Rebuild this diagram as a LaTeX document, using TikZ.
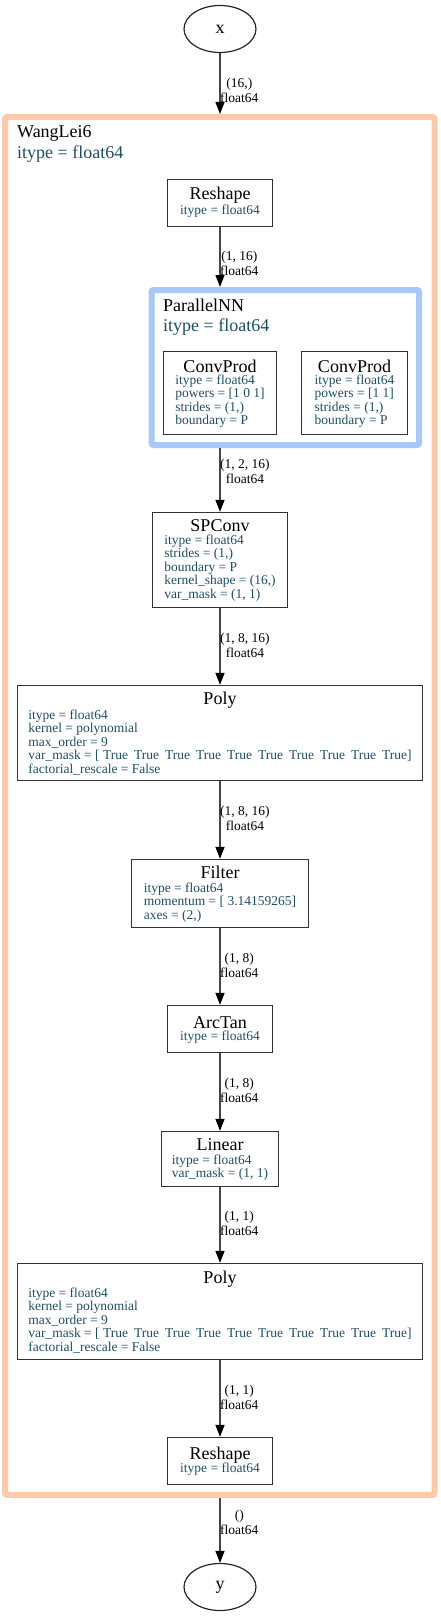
\documentclass[tikz,border=0pt]{standalone}
\usepackage{fontspec}
\setmainfont{Liberation Serif}
\usetikzlibrary{arrows.meta,shapes.geometric}
\definecolor{clusterorange}{RGB}{255,202,168}
\definecolor{clusterblue}{RGB}{168,200,250}
\definecolor{attrteal}{RGB}{30,78,96}
\definecolor{edgegray}{RGB}{70,70,70}

\begin{document}
\begin{tikzpicture}[x=1pt, y=-1pt,
    block/.style={draw=black!80, line width=1.3pt, inner sep=0pt},
    io/.style={ellipse, draw=black!85, line width=1.2pt, minimum width=72pt, minimum height=47pt, inner sep=0pt, font=\fontsize{18}{18}\selectfont},
    cluster/.style={line width=6pt, rounded corners=2pt, inner sep=0pt},
    heading/.style={anchor=base, inner sep=0pt, font=\fontsize{18}{18}\selectfont},
    attrs/.style={anchor=base, inner sep=0pt, text=attrteal, font=\fontsize{13.5}{13.5}\selectfont},
    elabel/.style={anchor=west, align=center, inner sep=0pt, font=\fontsize{13.5}{14.5}\selectfont},
    flow/.style={draw=edgegray, line width=1.4pt, -{Triangle[length=12pt, width=9pt, color=black]}}]
    \useasboundingbox (0,0) rectangle (440,1616);

    \node (wanglei) at (219.75,806) [cluster, draw=clusterorange, minimum width=429.5pt, minimum height=1378pt] {};
    \node (wangleiName) at (17,138) [heading, anchor=base west] {WangLei6};
    \node (wangleiType) at (17,159) [heading, anchor=base west, text=attrteal] {itype = float64};

    \node (parallel) at (285.25,367.5) [cluster, draw=clusterblue, minimum width=267.5pt, minimum height=155pt] {};
    \node (parallelName) at (163,311) [heading, anchor=base west] {ParallelNN};
    \node (parallelType) at (163,331) [heading, anchor=base west, text=attrteal] {itype = float64};

    \node (x) at (220,29) [io] {x};
    \node (y) at (220,1587) [io] {y};

    \node (reshapeIn) at (220,203) [block, minimum width=105pt, minimum height=47pt] {};
    \node (reshapeInName) at (220,200) [heading] {Reshape};
    \node (reshapeInAttr) at (220,214.5) [attrs] {itype = float64};

    \node (convA) at (220,393) [block, minimum width=113pt, minimum height=83pt] {};
    \node (convAName) at (220,372) [heading] {ConvProd};
    \node (convAAttr) at (220,384) [attrs] {\begin{tabular}[t]{@{}l@{}}itype = float64\\powers = [1 0 1]\\strides = (1,)\\boundary = P\end{tabular}};

    \node (convB) at (354.5,393) [block, minimum width=106pt, minimum height=83pt] {};
    \node (convBName) at (354.5,372) [heading] {ConvProd};
    \node (convBAttr) at (354.5,384) [attrs] {\begin{tabular}[t]{@{}l@{}}itype = float64\\powers = [1 1]\\strides = (1,)\\boundary = P\end{tabular}};

    \node (spconv) at (220,560) [block, minimum width=135pt, minimum height=95pt] {};
    \node (spconvName) at (220,531) [heading] {SPConv};
    \node (spconvAttr) at (220,544) [attrs] {\begin{tabular}[t]{@{}l@{}}itype = float64\\strides = (1,)\\boundary = P\\kernel\_shape = (16,)\\var\_mask = (1, 1)\end{tabular}};

    \node (polyA) at (220,733) [block, minimum width=405pt, minimum height=95pt] {};
    \node (polyAName) at (220,704) [heading] {Poly};
    \node (polyAAttr) at (220,719) [attrs] {\begin{tabular}[t]{@{}l@{}}itype = float64\\kernel = polynomial\\max\_order = 9\\var\_mask = [ True\hspace{6pt}True\hspace{6pt}True\hspace{6pt}True\hspace{6pt}True\hspace{6pt}True\hspace{6pt}True\hspace{6pt}True\hspace{6pt}True\hspace{6pt}True]\\factorial\_rescale = False\end{tabular}};

    \node (filter) at (220,893.5) [block, minimum width=177pt, minimum height=68pt] {};
    \node (filterName) at (220,878) [heading] {Filter};
    \node (filterAttr) at (220,892) [attrs] {\begin{tabular}[t]{@{}l@{}}itype = float64\\momentum = [ 3.14159265]\\axes = (2,)\end{tabular}};

    \node (arctan) at (220,1029) [block, minimum width=105pt, minimum height=47pt] {};
    \node (arctanName) at (220,1028) [heading] {ArcTan};
    \node (arctanAttr) at (220,1040.5) [attrs] {itype = float64};

    \node (linear) at (220,1159) [block, minimum width=117pt, minimum height=55pt] {};
    \node (linearName) at (220,1150) [heading] {Linear};
    \node (linearAttr) at (220,1164) [attrs] {\begin{tabular}[t]{@{}l@{}}itype = float64\\var\_mask = (1, 1)\end{tabular}};

    \node (polyB) at (220,1311.5) [block, minimum width=405pt, minimum height=96pt] {};
    \node (polyBName) at (220,1283) [heading] {Poly};
    \node (polyBAttr) at (220,1297) [attrs] {\begin{tabular}[t]{@{}l@{}}itype = float64\\kernel = polynomial\\max\_order = 9\\var\_mask = [ True\hspace{6pt}True\hspace{6pt}True\hspace{6pt}True\hspace{6pt}True\hspace{6pt}True\hspace{6pt}True\hspace{6pt}True\hspace{6pt}True\hspace{6pt}True]\\factorial\_rescale = False\end{tabular}};

    \node (reshapeOut) at (220,1461) [block, minimum width=105pt, minimum height=47pt] {};
    \node (reshapeOutName) at (220,1459) [heading] {Reshape};
    \node (reshapeOutAttr) at (220,1472.5) [attrs] {itype = float64};

    \draw[flow] (x) -- (x |- wanglei.north);
    \draw[flow] (reshapeIn) -- (reshapeIn |- parallel.north);
    \draw[flow] (reshapeIn |- parallel.south) -- (spconv);
    \draw[flow] (spconv) -- (polyA);
    \draw[flow] (polyA) -- (filter);
    \draw[flow] (filter) -- (arctan);
    \draw[flow] (arctan) -- (linear);
    \draw[flow] (linear) -- (polyB);
    \draw[flow] (polyB) -- (reshapeOut);
    \draw[flow] (reshapeOut |- wanglei.south) -- (y);

    \node (lblIn) at (220,90.5) [elabel] {(16,)\\float64};
    \node (lblReshape) at (220,263.5) [elabel] {(1, 16)\\float64};
    \node (lblParallel) at (220,471.5) [elabel] {(1, 2, 16)\\float64};
    \node (lblSPConv) at (220,645.5) [elabel] {(1, 8, 16)\\float64};
    \node (lblPolyA) at (220,818.5) [elabel] {(1, 8, 16)\\float64};
    \node (lblFilter) at (220,965.5) [elabel] {(1, 8)\\float64};
    \node (lblArcTan) at (220,1090.5) [elabel] {(1, 8)\\float64};
    \node (lblLinear) at (220,1223.5) [elabel] {(1, 1)\\float64};
    \node (lblPolyB) at (220,1397.5) [elabel] {(1, 1)\\float64};
    \node (lblOut) at (220,1522.5) [elabel] {()\\float64};
\end{tikzpicture}
\end{document}
